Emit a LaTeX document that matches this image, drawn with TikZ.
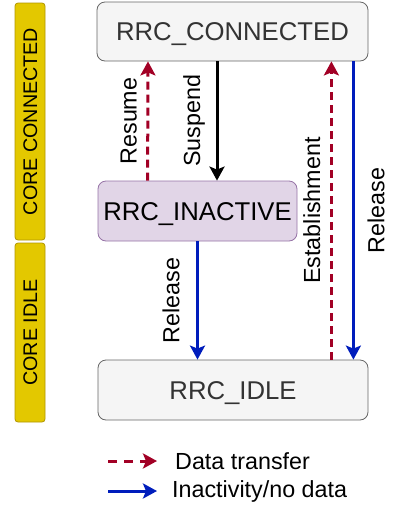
\documentclass[tikz,border=0pt]{standalone}
\usepackage{fontspec}
\setmainfont{Liberation Sans}
\usetikzlibrary{arrows.meta}
\usepackage{xcolor}
\definecolor{datared}{HTML}{A20025}
\definecolor{idleblue}{HTML}{001DBC}
\definecolor{coreyellow}{HTML}{E3C800}
\definecolor{coreborder}{HTML}{B09500}
\definecolor{inactfill}{HTML}{E1D5E7}
\definecolor{inactborder}{HTML}{9673A6}

\begin{document}
\begin{tikzpicture}[x=1pt, y=-1pt,
		state/.style = {draw = gray!80!black, fill = gray!8, rounded corners = 8pt, line width = 0.8pt,
			font = \fontsize{25.7}{30}\selectfont, text = black!80, text height = 18.4pt, text depth = 0pt},
		core/.style = {draw = coreborder, fill = coreyellow, rounded corners = 3pt, rotate = 90, line width = 0.8pt,
			minimum height = 30pt, font = \fontsize{19.7}{24}\selectfont, text height = 14pt, text depth = 0pt},
		lbl/.style = {rotate = 90, inner sep = 0pt, text = black, font = \fontsize{23.3}{28}\selectfont},
		tip/.style = {-{Stealth[length = 14pt, width = 15pt, inset = 3pt]}},
		datatr/.style = {tip, datared, line width = 3pt, dash pattern = on 8pt off 5pt},
		noact/.style = {tip, idleblue, line width = 3pt}]
	\useasboundingbox (0, 0) rectangle (416, 528);

	\node[core, minimum width = 237pt] (coreconn) at (30, 121.5) {CORE CONNECTED};
	\node[core, minimum width = 179pt] (coreidle) at (30, 332.5) {CORE IDLE};

	\node[state, minimum width = 271pt, minimum height = 59pt] (conn) at (232.5, 31.5) {RRC\_CONNECTED};
	\node[state, fill = inactfill, draw = inactborder, text = black, minimum width = 199pt, minimum height = 60pt] (inact) at (197.5, 211) {RRC\_INACTIVE};
	\node[state, minimum width = 270pt, minimum height = 60pt] (idle) at (233, 390) {RRC\_IDLE};

	\draw[datatr] ([xshift = 50pt]inact.north west) -- ([xshift = -84.5pt]conn.south) node[lbl, midway, anchor = south, outer sep = 11pt]{Resume};
	\draw[tip, line width = 3pt] ([xshift = -15.5pt]conn.south) -- ([xshift = 19.5pt]inact.north) node[lbl, midway, anchor = south, outer sep = 12pt]{Suspend};
	\draw[noact] (inact.south) -- (inact.south |- idle.north) node[lbl, midway, anchor = south, outer sep = 18pt]{Release};
	\draw[datatr] ([xshift = -37pt]idle.north east) -- ([xshift = -37pt]conn.south east) node[lbl, midway, anchor = south, outer sep = 11pt]{Establishment};
	\draw[noact] ([xshift = -15pt]conn.south east) -- ([xshift = -15pt]idle.north east) node[lbl, midway, anchor = north, outer sep = 14pt]{Release};

	% legend
	\node[anchor = base west, inner sep = 0pt, font = \fontsize{23.3}{28}\selectfont] (legdata) at (175, 469) {Data transfer};
	\node[anchor = base west, inner sep = 0pt, font = \fontsize{23.3}{28}\selectfont] (legidle) at (172, 497) {Inactivity/no data};
	\coordinate (legdatastart) at (108, 461);
	\coordinate (legidlestart) at (108, 491);
	\draw[datatr, dash pattern = on 9pt off 7pt] (legdatastart) -- (legdatastart -| 157, 0);
	\draw[noact] (legidlestart) -- (legidlestart -| 157, 0);
\end{tikzpicture}
\end{document}
